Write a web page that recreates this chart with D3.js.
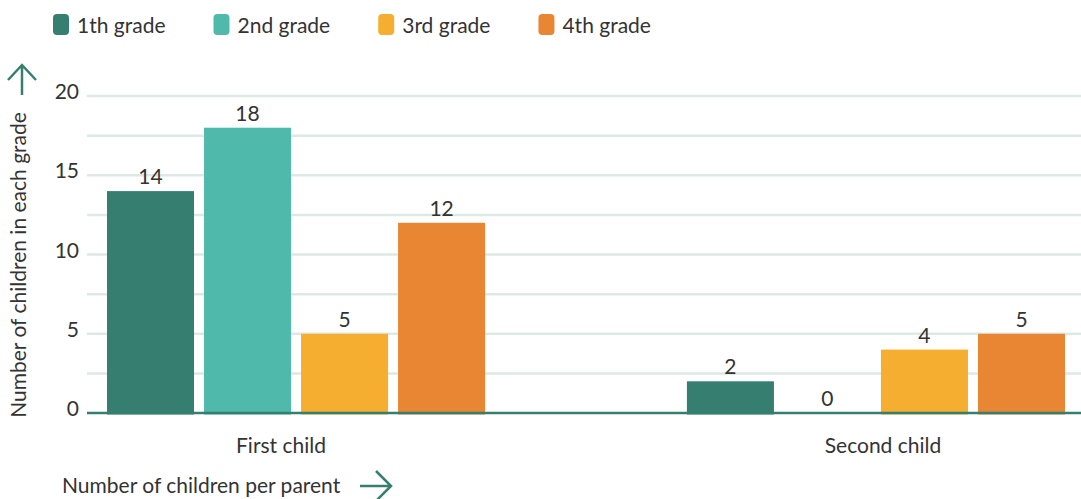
<!DOCTYPE html>
<html>
<head>
<meta charset="utf-8">
<script src="https://cdn.jsdelivr.net/npm/d3@7"></script>
<style>
    body { margin: 0; background: #fff; }
    text { font-family: Lato, "Open Sans", sans-serif; fill: #333; }
</style>
</head>
<body>
<svg id="chart"></svg>
<script>
// chart data
let groups = ['First child', 'Second child'];
let grades = ['1th grade', '2nd grade', '3rd grade', '4th grade'];
let firstChild = [14, 18, 5, 12];
let secondChild = [2, 0, 4, 5];
let yTicks = [0, 5, 10, 15, 20];
let gridTicks = [0, 2.5, 5, 7.5, 10, 12.5, 15, 17.5, 20];
let colors = ['#367f70', '#4fbaab', '#f5ae30', '#e88633'];

let width = 1081;
let height = 499;
let margin = {top: 96, bot: 86, left: 87, right: 0};
let config = {
    margin: margin,
    bodyWidth: width - margin.left - margin.right,
    bodyHeight: height - margin.top - margin.bot,
    width: width,
    height: height
};
let fontSize = 21;
let axisColor = '#367f70';

let svg = d3.select('#chart')
    .attr('width', width)
    .attr('height', height);

let data = groups.map((g, i) => ({
    group: g,
    values: (i === 0 ? firstChild : secondChild).map((v, j) => ({grade: grades[j], value: v}))
}));

let yScale = d3.scaleLinear()
    .domain([0, 20])
    .range([config.margin.top + config.bodyHeight, config.margin.top]);

let x0 = d3.scaleBand()
    .domain(groups)
    .range([107, 1065])
    .paddingInner(0.348)
    .paddingOuter(0);
let x1 = d3.scaleBand()
    .domain(grades)
    .range([0, x0.bandwidth()])
    .paddingInner(0.103)
    .paddingOuter(0);
// group labels sit a little off the bar group centres
let xLabel = d3.scalePoint()
    .domain(groups)
    .range([281, 883]);

let colorScale = d3.scaleOrdinal()
    .domain(grades)
    .range(colors);

// grid lines
svg.append('g')
    .selectAll('line')
    .data(gridTicks.filter(d => d > 0))
    .join('line')
    .attr('x1', config.margin.left)
    .attr('x2', width)
    .attr('y1', d => yScale(d))
    .attr('y2', d => yScale(d))
    .attr('stroke', '#dce9e5')
    .attr('stroke-width', 2.5);

// y tick labels
svg.append('g')
    .selectAll('text')
    .data(yTicks)
    .join('text')
    .attr('x', 79)
    .attr('y', d => yScale(d) + 3)
    .style('text-anchor', 'end')
    .style('font-size', fontSize + 'px')
    .text(d => d);

// bars
let groupSel = svg.append('g')
    .selectAll('g')
    .data(data)
    .join('g')
    .attr('transform', d => `translate(${x0(d.group)},0)`);

groupSel.selectAll('rect')
    .data(d => d.values.filter(v => v.value > 0))
    .join('rect')
    .attr('x', d => x1(d.grade))
    .attr('y', d => yScale(d.value))
    .attr('width', x1.bandwidth())
    .attr('height', d => yScale(0) - yScale(d.value) + 1.5)
    .attr('fill', d => colorScale(d.grade));

groupSel.selectAll('text')
    .data(d => d.values)
    .join('text')
    .attr('x', d => x1(d.grade) + x1.bandwidth() / 2)
    .attr('y', d => yScale(d.value) - 7)
    .style('text-anchor', 'middle')
    .style('font-size', fontSize + 'px')
    .text(d => d.value);

// zero line
svg.append('line')
    .attr('x1', config.margin.left)
    .attr('x2', width)
    .attr('y1', yScale(0))
    .attr('y2', yScale(0))
    .attr('stroke', axisColor)
    .attr('stroke-width', 2.5);

// x labels
svg.append('g')
    .selectAll('text')
    .data(groups)
    .join('text')
    .attr('x', d => xLabel(d))
    .attr('y', 453)
    .style('text-anchor', 'middle')
    .style('font-size', fontSize + 'px')
    .text(d => d);

// axis titles
svg.append('text')
    .attr('transform', 'rotate(-90)')
    .attr('x', -265)
    .attr('y', 26)
    .style('text-anchor', 'middle')
    .style('font-size', fontSize + 'px')
    .text('Number of children in each grade');

svg.append('text')
    .attr('x', 62)
    .attr('y', 493)
    .style('font-size', fontSize + 'px')
    .text('Number of children per parent');

// arrows
let arrowStyle = sel => sel.attr('fill', 'none')
    .attr('stroke', axisColor)
    .attr('stroke-width', 2.5)
    .attr('stroke-linecap', 'butt');
svg.append('path')
    .attr('d', 'M22,95 L22,65 M8,80 L22,65 L36,80')
    .call(arrowStyle);
svg.append('path')
    .attr('d', 'M360,486 L391,486 M376,471 L391,486 L376,501')
    .call(arrowStyle);

// legend
let legend = svg.append('g');
let lx = 53;
grades.forEach((g, i) => {
    let item = legend.append('g').attr('transform', `translate(${lx},0)`);
    item.append('rect')
        .attr('x', 0)
        .attr('y', 14)
        .attr('width', 16)
        .attr('height', 21)
        .attr('rx', 4)
        .attr('fill', colorScale(g));
    let t = item.append('text')
        .attr('x', 24)
        .attr('y', 33)
        .style('font-size', fontSize + 'px')
        .text(g);
    lx += 24 + t.node().getComputedTextLength() + 48;
});
</script>
</body>
</html>
